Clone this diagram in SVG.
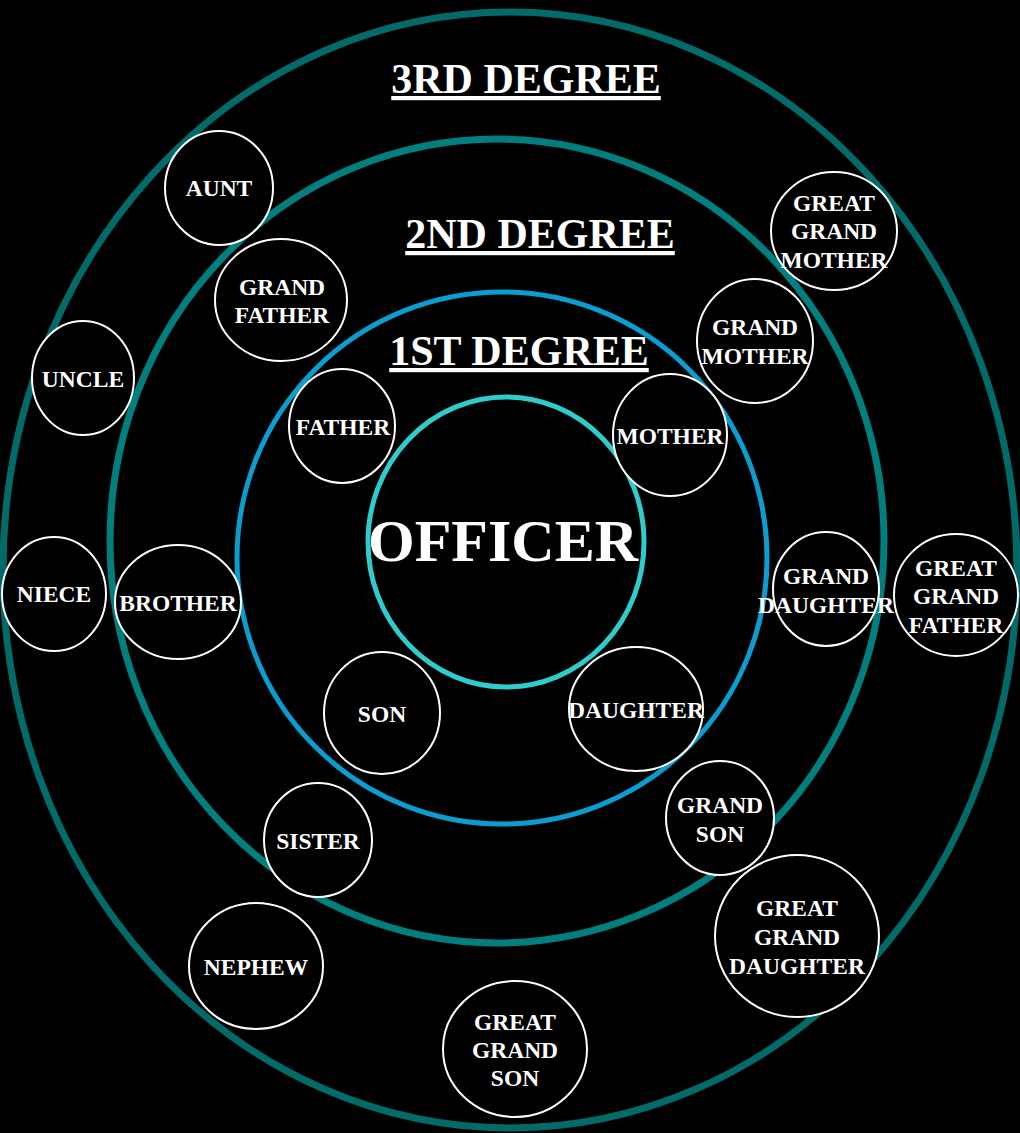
<svg xmlns="http://www.w3.org/2000/svg" width="1020" height="1133" viewBox="0 0 1020 1133">
<style>
.ring{fill:none}
.node ellipse{fill:#000;stroke:#fff;stroke-width:2}
text{font-family:"Liberation Serif","Times New Roman",serif;font-weight:bold;fill:#fff;text-anchor:middle}
.lbl{font-size:23.5px}
.deg{font-size:42px;text-decoration:underline}
</style>
<rect width="1020" height="1133" fill="#000"/>
<g id="rings">
<ellipse class="ring" cx="510" cy="570" rx="507" ry="558" stroke="#026b69" stroke-width="7"/>
<ellipse class="ring" cx="497" cy="541" rx="387" ry="402" stroke="#017f7e" stroke-width="7"/>
<ellipse class="ring" cx="502" cy="558" rx="265" ry="266" stroke="#0a9dd0" stroke-width="5"/>
</g>
<g id="titles">
<text class="deg" x="526" y="93">3RD DEGREE</text>
<text class="deg" x="540" y="248">2ND DEGREE</text>
<text class="deg" x="519" y="365">1ST DEGREE</text>
</g>
<g id="officer">
<ellipse class="ring" cx="506" cy="542" rx="138" ry="145" stroke="#2fcccc" stroke-width="5"/>
<text x="503" y="561" font-size="60">OFFICER</text>
</g>
<g id="connectors"></g>
<g id="aunt" class="node"><ellipse cx="219" cy="188" rx="54" ry="57"/><text class="lbl" x="219" y="196">AUNT</text></g>
<g id="grandfather" class="node"><ellipse cx="281" cy="300" rx="66" ry="61"/><text class="lbl" x="282" y="295">GRAND</text><text class="lbl" x="282" y="323">FATHER</text></g>
<g id="uncle" class="node"><ellipse cx="83" cy="378" rx="51" ry="57"/><text class="lbl" x="83" y="387">UNCLE</text></g>
<g id="father" class="node"><ellipse cx="342" cy="426" rx="53" ry="57"/><text class="lbl" x="343" y="435">FATHER</text></g>
<g id="niece" class="node"><ellipse cx="54" cy="594" rx="52" ry="57"/><text class="lbl" x="54" y="602">NIECE</text></g>
<g id="brother" class="node"><ellipse cx="178" cy="602" rx="63" ry="57"/><text class="lbl" x="178" y="611">BROTHER</text></g>
<g id="son" class="node"><ellipse cx="382" cy="713" rx="58" ry="61"/><text class="lbl" x="382" y="722">SON</text></g>
<g id="daughter" class="node"><ellipse cx="636" cy="709" rx="67" ry="62"/><text class="lbl" x="636" y="718">DAUGHTER</text></g>
<g id="sister" class="node"><ellipse cx="318" cy="840" rx="54" ry="57"/><text class="lbl" x="318" y="849">SISTER</text></g>
<g id="nephew" class="node"><ellipse cx="256" cy="966" rx="67" ry="63"/><text class="lbl" x="256" y="975">NEPHEW</text></g>
<g id="greatgrandson" class="node"><ellipse cx="515" cy="1049" rx="72" ry="68"/><text class="lbl" x="515" y="1030">GREAT</text><text class="lbl" x="515" y="1058">GRAND</text><text class="lbl" x="515" y="1086">SON</text></g>
<g id="greatgranddaughter" class="node"><ellipse cx="797" cy="936" rx="82" ry="81"/><text class="lbl" x="797" y="916">GREAT</text><text class="lbl" x="797" y="945">GRAND</text><text class="lbl" x="797" y="974">DAUGHTER</text></g>
<g id="grandson" class="node"><ellipse cx="720" cy="818" rx="54" ry="57"/><text class="lbl" x="720" y="813">GRAND</text><text class="lbl" x="720" y="842">SON</text></g>
<g id="granddaughter" class="node"><ellipse cx="826" cy="589" rx="53" ry="57"/><text class="lbl" x="826" y="584">GRAND</text><text class="lbl" x="826" y="613">DAUGHTER</text></g>
<g id="greatgrandfather" class="node"><ellipse cx="956" cy="595" rx="62" ry="61"/><text class="lbl" x="956" y="576">GREAT</text><text class="lbl" x="956" y="604">GRAND</text><text class="lbl" x="956" y="633">FATHER</text></g>
<g id="mother" class="node"><ellipse cx="670" cy="435" rx="57" ry="61"/><text class="lbl" x="670" y="444">MOTHER</text></g>
<g id="grandmother" class="node"><ellipse cx="755" cy="341" rx="58" ry="62"/><text class="lbl" x="755" y="335">GRAND</text><text class="lbl" x="755" y="364">MOTHER</text></g>
<g id="greatgrandmother" class="node"><ellipse cx="834" cy="231" rx="63" ry="59"/><text class="lbl" x="834" y="211">GREAT</text><text class="lbl" x="834" y="239">GRAND</text><text class="lbl" x="834" y="268">MOTHER</text></g>
</svg>
